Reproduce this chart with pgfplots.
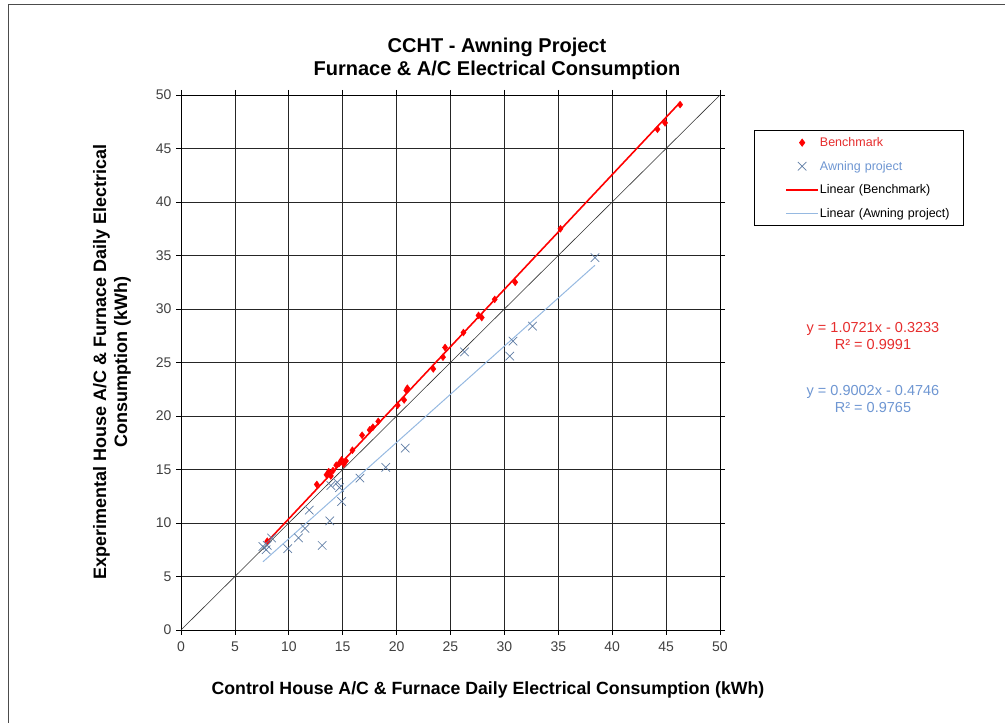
\documentclass[border=0pt]{standalone}
\usepackage{pgfplots}
\pgfplotsset{compat=1.18}
\usepackage{fontspec}
\setmainfont{Liberation Sans}

\definecolor{bench}{RGB}{255,0,0}
\definecolor{awn}{RGB}{95,125,165}
\definecolor{awnline}{RGB}{150,185,225}
\definecolor{eqred}{RGB}{230,45,45}
\definecolor{eqblue}{RGB}{110,150,210}

\begin{document}
\begin{tikzpicture}[x=1pt,y=1pt]
\path[use as bounding box] (0,0) rectangle (1005,723);
% chart area frame (left and top edges visible)
\draw[black!70, line width=1pt] (8,0) -- (8,718) -- (1005,718);

\node[font=\bfseries\fontsize{20}{23}\selectfont, align=center] at (497,664)
  {CCHT - Awning Project\\Furnace \& A/C Electrical Consumption};

\begin{axis}[
  at={(181pt,93pt)}, anchor=south west,
  scale only axis, width=539pt, height=535pt,
  xmin=0, xmax=50, ymin=0, ymax=50,
  xtick distance=5, ytick distance=5,
  grid=major, grid style={black!85, line width=0.8pt},
  axis line style={black, line width=0.8pt},
  tick style={black, line width=0.8pt}, tick align=outside, major tick length=5pt,
  ticklabel style={font=\fontsize{14}{16}\selectfont, text=black!75},
  xticklabel style={yshift=-3pt},
  yticklabel style={xshift=-1pt},
  /pgf/number format/assume math mode=true,
  clip=false,
  legend style={at={(1.063,0.9346)}, anchor=north west, draw=black, line width=0.8pt,
    font=\fontsize{12.5}{15}\selectfont, inner xsep=2pt, inner ysep=6pt, row sep=11pt,
    nodes={text width=140pt, inner sep=1pt}, cells={anchor=west}},
  legend cell align=left,
  legend image code/.code={\path (0pt,0pt); \draw[mark repeat=2,mark phase=2,#1] plot coordinates {(29pt,0pt)(45pt,0pt)(61pt,0pt)};},
]
% 1:1 reference line
\addplot[black!80, line width=0.6pt, forget plot] coordinates {(0,0)(50,50)};

\addplot[only marks, mark=diamond*, mark size=3.5pt, color=bench] coordinates {
(8.0,8.3)(12.6,13.6)(13.5,14.5)(13.7,14.8)(13.9,14.4)(14.1,14.9)(14.4,15.4)
(14.7,15.6)(14.9,15.9)(15.1,15.5)(15.3,15.8)(15.9,16.8)(16.8,18.2)(17.5,18.7)
(17.8,18.95)(18.3,19.5)(20.1,21.0)(20.7,21.5)(20.9,22.4)(21.0,22.6)(23.4,24.4)
(24.3,25.5)(24.5,26.4)(26.2,27.8)(27.6,29.4)(27.9,29.2)(29.1,30.9)(31.0,32.5)
(35.2,37.5)(44.2,46.8)(44.9,47.4)(46.3,49.1)};
\addlegendentry{\textcolor{eqred}{Benchmark}}

\addplot[only marks, mark=x, mark size=6pt, color=awn, line width=0.7pt] coordinates {
(7.6,7.8)(7.9,7.5)(8.0,7.9)(8.4,8.6)(9.9,7.6)(10.9,8.6)(11.5,9.5)(11.9,11.2)
(13.1,7.9)(13.8,10.2)(13.9,13.5)(14.5,13.8)(14.7,13.3)(14.9,12.0)(16.6,14.2)
(19.0,15.2)(20.8,17.0)(26.3,26.0)(30.5,25.6)(30.8,27.0)(32.6,28.4)(38.4,34.8)};
\addlegendentry{\textcolor{eqblue}{Awning project}}

\addplot[bench, line width=1.6pt] coordinates {(8.0,8.25)(46.3,49.31)};
\addlegendentry{Linear (Benchmark)}

\addplot[awnline, line width=1pt] coordinates {(7.6,6.37)(38.4,34.09)};
\addlegendentry{Linear (Awning project)}
\end{axis}

\node[font=\bfseries\fontsize{18}{21}\selectfont, rotate=90, align=center] at (112,361)
  {Experimental House A/C \& Furnace Daily Electrical\\Consumption (kWh)};
\node[font=\bfseries\fontsize{17.7}{20}\selectfont] at (488,33)
  {Control House A/C \& Furnace Daily Electrical Consumption (kWh)};

\node[font=\fontsize{14.5}{17}\selectfont, text=eqred, align=center] at (873,387)
  {y = 1.0721x - 0.3233\\R² = 0.9991};
\node[font=\fontsize{14.5}{17}\selectfont, text=eqblue, align=center] at (873,324)
  {y = 0.9002x - 0.4746\\R² = 0.9765};
\end{tikzpicture}
\end{document}
